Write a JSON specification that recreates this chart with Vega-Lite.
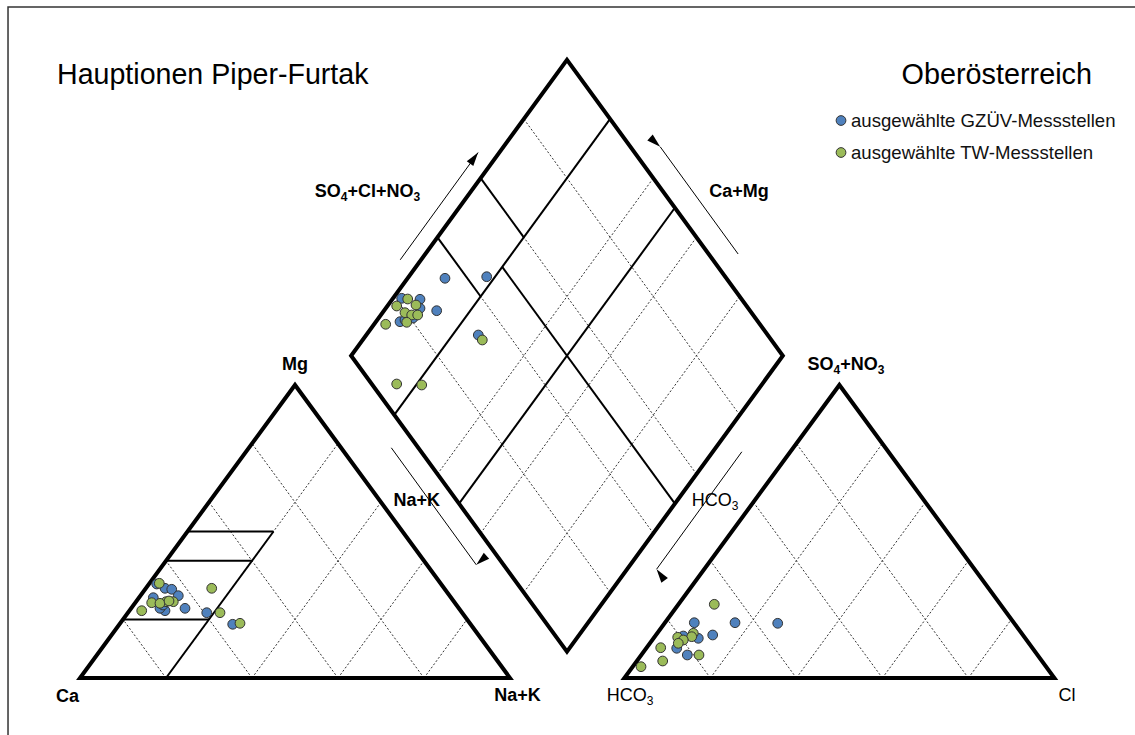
{
  "$schema": "https://vega.github.io/schema/vega-lite/v6.json",
  "width": 1135,
  "height": 735,
  "autosize": {"type": "none"},
  "padding": 0,
  "background": "white",
  "config": {"view": {"stroke": null}},
  "datasets": {
    "frame": [
      {"id": "f", "o": 1, "x": -16.74, "y": -19.45},
      {"id": "f", "o": 2, "x": -16.74, "y": 229.0},
      {"id": "f", "o": 3, "x": 245.35, "y": 229.0}
    ],
    "dash": [
      {"id": "l1", "o": 1, "x": 20, "y": 0}, {"id": "l1", "o": 2, "x": 10, "y": 20},
      {"id": "l2", "o": 1, "x": 40, "y": 0}, {"id": "l2", "o": 2, "x": 20, "y": 40},
      {"id": "l3", "o": 1, "x": 60, "y": 0}, {"id": "l3", "o": 2, "x": 30, "y": 60},
      {"id": "l4", "o": 1, "x": 80, "y": 0}, {"id": "l4", "o": 2, "x": 40, "y": 80},
      {"id": "l5", "o": 1, "x": 20, "y": 0}, {"id": "l5", "o": 2, "x": 60, "y": 80},
      {"id": "l6", "o": 1, "x": 40, "y": 0}, {"id": "l6", "o": 2, "x": 70, "y": 60},
      {"id": "l7", "o": 1, "x": 60, "y": 0}, {"id": "l7", "o": 2, "x": 80, "y": 40},
      {"id": "l8", "o": 1, "x": 80, "y": 0}, {"id": "l8", "o": 2, "x": 90, "y": 20},
      {"id": "r1", "o": 1, "x": 146.6, "y": 0}, {"id": "r1", "o": 2, "x": 136.6, "y": 20},
      {"id": "r2", "o": 1, "x": 166.6, "y": 0}, {"id": "r2", "o": 2, "x": 146.6, "y": 40},
      {"id": "r3", "o": 1, "x": 186.6, "y": 0}, {"id": "r3", "o": 2, "x": 156.6, "y": 60},
      {"id": "r4", "o": 1, "x": 206.6, "y": 0}, {"id": "r4", "o": 2, "x": 166.6, "y": 80},
      {"id": "r5", "o": 1, "x": 146.6, "y": 0}, {"id": "r5", "o": 2, "x": 186.6, "y": 80},
      {"id": "r6", "o": 1, "x": 166.6, "y": 0}, {"id": "r6", "o": 2, "x": 196.6, "y": 60},
      {"id": "r7", "o": 1, "x": 186.6, "y": 0}, {"id": "r7", "o": 2, "x": 206.6, "y": 40},
      {"id": "r8", "o": 1, "x": 206.6, "y": 0}, {"id": "r8", "o": 2, "x": 216.6, "y": 20},
      {"id": "d1", "o": 1, "x": 103.21, "y": 29.2}, {"id": "d1", "o": 2, "x": 153.41, "y": 130.2},
      {"id": "d2", "o": 1, "x": 93.17, "y": 49.4}, {"id": "d2", "o": 2, "x": 143.37, "y": 150.4},
      {"id": "d3", "o": 1, "x": 83.13, "y": 69.6}, {"id": "d3", "o": 2, "x": 133.33, "y": 170.6},
      {"id": "d4", "o": 1, "x": 73.09, "y": 89.8}, {"id": "d4", "o": 2, "x": 123.29, "y": 190.8},
      {"id": "d5", "o": 1, "x": 123.29, "y": 29.2}, {"id": "d5", "o": 2, "x": 73.09, "y": 130.2},
      {"id": "d6", "o": 1, "x": 133.33, "y": 49.4}, {"id": "d6", "o": 2, "x": 83.13, "y": 150.4},
      {"id": "d7", "o": 1, "x": 143.37, "y": 69.6}, {"id": "d7", "o": 2, "x": 93.17, "y": 170.6},
      {"id": "d8", "o": 1, "x": 153.41, "y": 89.8}, {"id": "d8", "o": 2, "x": 103.21, "y": 190.8}
    ],
    "thin": [
      {"id": "t1", "o": 1, "x": 20, "y": 0}, {"id": "t1", "o": 2, "x": 45, "y": 50},
      {"id": "t2", "o": 1, "x": 10, "y": 20}, {"id": "t2", "o": 2, "x": 30, "y": 20},
      {"id": "t3", "o": 1, "x": 20, "y": 40}, {"id": "t3", "o": 2, "x": 40, "y": 40},
      {"id": "t4", "o": 1, "x": 25, "y": 50}, {"id": "t4", "o": 2, "x": 45, "y": 50},
      {"id": "t5", "o": 1, "x": 73.09, "y": 89.8}, {"id": "t5", "o": 2, "x": 123.29, "y": 190.8},
      {"id": "t6", "o": 1, "x": 88.15, "y": 59.5}, {"id": "t6", "o": 2, "x": 138.35, "y": 160.5},
      {"id": "t7", "o": 1, "x": 138.35, "y": 59.5}, {"id": "t7", "o": 2, "x": 98.19, "y": 140.3},
      {"id": "t8", "o": 1, "x": 93.17, "y": 130.2}, {"id": "t8", "o": 2, "x": 83.13, "y": 150.4},
      {"id": "t9", "o": 1, "x": 103.21, "y": 150.4}, {"id": "t9", "o": 2, "x": 93.17, "y": 170.6}
    ],
    "thick": [
      {"id": "A", "o": 1, "x": 50, "y": 0}, {"id": "A", "o": 2, "x": 100, "y": 0},
      {"id": "A", "o": 3, "x": 50, "y": 100}, {"id": "A", "o": 4, "x": 0, "y": 0},
      {"id": "A", "o": 5, "x": 50, "y": 0},
      {"id": "B", "o": 1, "x": 176.6, "y": 0}, {"id": "B", "o": 2, "x": 226.6, "y": 0},
      {"id": "B", "o": 3, "x": 176.6, "y": 100}, {"id": "B", "o": 4, "x": 126.6, "y": 0},
      {"id": "B", "o": 5, "x": 176.6, "y": 0},
      {"id": "C", "o": 1, "x": 88.15, "y": 59.5}, {"id": "C", "o": 2, "x": 63.05, "y": 110},
      {"id": "C", "o": 3, "x": 113.25, "y": 211}, {"id": "C", "o": 4, "x": 163.45, "y": 110},
      {"id": "C", "o": 5, "x": 113.25, "y": 9}, {"id": "C", "o": 6, "x": 88.15, "y": 59.5}
    ],
    "arrows": [
      {"id": "a1", "o": 1, "x": 74.47, "y": 142.73}, {"id": "a1", "o": 2, "x": 92.58, "y": 179.32},
      {"id": "a2", "o": 1, "x": 153.05, "y": 144.71}, {"id": "a2", "o": 2, "x": 134.93, "y": 181.3},
      {"id": "a3", "o": 1, "x": 72.4, "y": 78.57}, {"id": "a3", "o": 2, "x": 92.16, "y": 38.63},
      {"id": "a4", "o": 1, "x": 153.91, "y": 77.2}, {"id": "a4", "o": 2, "x": 134.09, "y": 37.13}
    ],
    "heads": [
      {"x": 92.58, "y": 179.32, "dir": "ne"},
      {"x": 134.93, "y": 181.3, "dir": "nw"},
      {"x": 92.16, "y": 38.63, "dir": "se"},
      {"x": 134.09, "y": 37.13, "dir": "sw"}
    ],
    "pts": [
      {"g": "GZÜV", "x": 17.84, "y": 32.08},
      {"g": "GZÜV", "x": 19.77, "y": 30.61},
      {"g": "GZÜV", "x": 21.33, "y": 30.27},
      {"g": "GZÜV", "x": 22.86, "y": 28.09},
      {"g": "GZÜV", "x": 17.05, "y": 27.41},
      {"g": "GZÜV", "x": 24.42, "y": 23.78},
      {"g": "GZÜV", "x": 19.77, "y": 22.97},
      {"g": "GZÜV", "x": 18.6, "y": 23.79},
      {"g": "GZÜV", "x": 29.47, "y": 22.29},
      {"g": "GZÜV", "x": 35.51, "y": 18.33},
      {"g": "GZÜV", "x": 19.3, "y": 24.91},
      {"g": "GZÜV", "x": 84.88, "y": 136.42},
      {"g": "GZÜV", "x": 94.58, "y": 136.96},
      {"g": "GZÜV", "x": 74.81, "y": 129.59},
      {"g": "GZÜV", "x": 79.07, "y": 129.25},
      {"g": "GZÜV", "x": 82.95, "y": 125.36},
      {"g": "GZÜV", "x": 79.07, "y": 126.18},
      {"g": "GZÜV", "x": 74.42, "y": 121.6},
      {"g": "GZÜV", "x": 75.58, "y": 122.18},
      {"g": "GZÜV", "x": 92.63, "y": 117.06},
      {"g": "GZÜV", "x": 77.44, "y": 122.87},
      {"g": "GZÜV", "x": 142.86, "y": 18.87},
      {"g": "GZÜV", "x": 152.33, "y": 18.87},
      {"g": "GZÜV", "x": 162.26, "y": 18.67},
      {"g": "GZÜV", "x": 147.14, "y": 14.68},
      {"g": "GZÜV", "x": 143.79, "y": 13.55},
      {"g": "GZÜV", "x": 140.3, "y": 14.33},
      {"g": "GZÜV", "x": 138.77, "y": 10.14},
      {"g": "GZÜV", "x": 141.23, "y": 7.85},
      {"g": "TW", "x": 18.44, "y": 32.32},
      {"g": "TW", "x": 30.63, "y": 30.61},
      {"g": "TW", "x": 16.67, "y": 25.7},
      {"g": "TW", "x": 20.0, "y": 26.04},
      {"g": "TW", "x": 21.7, "y": 26.04},
      {"g": "TW", "x": 18.6, "y": 25.49},
      {"g": "TW", "x": 14.35, "y": 22.97},
      {"g": "TW", "x": 32.56, "y": 22.29},
      {"g": "TW", "x": 37.21, "y": 18.67},
      {"g": "TW", "x": 20.7, "y": 26.28},
      {"g": "TW", "x": 76.21, "y": 129.35},
      {"g": "TW", "x": 73.65, "y": 126.96},
      {"g": "TW", "x": 78.14, "y": 127.3},
      {"g": "TW", "x": 75.58, "y": 124.68},
      {"g": "TW", "x": 77.14, "y": 123.89},
      {"g": "TW", "x": 78.53, "y": 123.89},
      {"g": "TW", "x": 75.98, "y": 121.4},
      {"g": "TW", "x": 71.09, "y": 120.72},
      {"g": "TW", "x": 93.56, "y": 115.36},
      {"g": "TW", "x": 73.65, "y": 100.34},
      {"g": "TW", "x": 79.47, "y": 100.0},
      {"g": "TW", "x": 147.51, "y": 25.15},
      {"g": "TW", "x": 142.63, "y": 15.26},
      {"g": "TW", "x": 142.26, "y": 14.1},
      {"g": "TW", "x": 139.0, "y": 13.89},
      {"g": "TW", "x": 140.3, "y": 12.97},
      {"g": "TW", "x": 135.05, "y": 10.34},
      {"g": "TW", "x": 143.95, "y": 7.85},
      {"g": "TW", "x": 135.51, "y": 5.8},
      {"g": "TW", "x": 130.47, "y": 3.86},
      {"g": "TW", "x": 139.14, "y": 11.84}
    ],
    "legpts": [
      {"g": "GZÜV", "x": 176.98, "y": 190.27},
      {"g": "TW", "x": 176.98, "y": 179.35}
    ],
    "legtxt": [
      {"t": "ausgewählte GZÜV-Messstellen", "x": 179.3, "y": 188.05},
      {"t": "ausgewählte TW-Messstellen", "x": 179.3, "y": 177.13}
    ],
    "title": [{"t": "Hauptionen Piper-Furtak", "x": -5.35, "y": 202.73}],
    "region": [{"t": "Oberösterreich", "x": 235.35, "y": 202.73}],
    "boldC": [
      {"t": "Mg", "x": 50, "y": 105.12},
      {"t": "Ca", "x": -2.91, "y": -8.19},
      {"t": "Na+K", "x": 101.74, "y": -7.85},
      {"t": "Ca+Mg", "x": 153.26, "y": 164.16},
      {"t": "Na+K", "x": 78.3, "y": 58.7}
    ],
    "boldL": [
      {"t": "SO", "x": 54.6, "y": 164.16},
      {"t": "+Cl+NO", "x": 62.2, "y": 164.16},
      {"t": "SO", "x": 169.2, "y": 105.12},
      {"t": "+NO", "x": 176.8, "y": 105.12}
    ],
    "boldSub": [
      {"t": "4", "x": 60.65, "y": 164.16},
      {"t": "3", "x": 77.56, "y": 164.16},
      {"t": "4", "x": 175.25, "y": 105.12},
      {"t": "3", "x": 185.53, "y": 105.12}
    ],
    "regC": [
      {"t": "Cl", "x": 229.53, "y": -7.85}
    ],
    "regL": [
      {"t": "HCO", "x": 122.48, "y": -7.85},
      {"t": "HCO", "x": 142.25, "y": 58.7}
    ],
    "regSub": [
      {"t": "3", "x": 131.78, "y": -7.85},
      {"t": "3", "x": 151.55, "y": 58.7}
    ]
  },
  "encoding": {
    "x": {"field": "x", "type": "quantitative", "scale": {"domain": [-18.605, 245.349], "nice": false, "zero": false}, "axis": null},
    "y": {"field": "y", "type": "quantitative", "scale": {"domain": [-19.454, 231.399], "nice": false, "zero": false}, "axis": null}
  },
  "layer": [
    {
      "data": {"name": "frame"},
      "mark": {"type": "line", "color": "#333333", "strokeWidth": 1.5},
      "encoding": {"detail": {"field": "id"}, "order": {"field": "o"}}
    },
    {
      "data": {"name": "dash"},
      "mark": {"type": "line", "color": "#333333", "strokeWidth": 1, "strokeDash": [2, 2]},
      "encoding": {"detail": {"field": "id"}, "order": {"field": "o"}}
    },
    {
      "data": {"name": "thin"},
      "mark": {"type": "line", "color": "#000000", "strokeWidth": 2},
      "encoding": {"detail": {"field": "id"}, "order": {"field": "o"}}
    },
    {
      "data": {"name": "thick"},
      "mark": {"type": "line", "color": "#000000", "strokeWidth": 4, "strokeJoin": "miter", "strokeMiterLimit": 10},
      "encoding": {"detail": {"field": "id"}, "order": {"field": "o"}}
    },
    {
      "data": {"name": "arrows"},
      "mark": {"type": "line", "color": "#000000", "strokeWidth": 1},
      "encoding": {"detail": {"field": "id"}, "order": {"field": "o"}}
    },
    {
      "data": {"name": "heads"},
      "mark": {"type": "point", "shape": "M0,0L1,3.4L-1,3.4Z", "filled": true, "color": "#000000", "opacity": 1},
      "encoding": {
        "size": {"value": 65},
        "angle": {"field": "dir", "type": "ordinal", "scale": {"domain": ["ne", "nw", "se", "sw"], "range": [36, 324, 144, 216]}, "legend": null}
      }
    },
    {
      "data": {"name": "pts"},
      "mark": {"type": "point", "shape": "circle", "filled": true, "opacity": 1, "stroke": "#333333", "strokeWidth": 1},
      "encoding": {
        "size": {"value": 95},
        "fill": {"field": "g", "type": "nominal", "scale": {"domain": ["GZÜV", "TW"], "range": ["#4F81BD", "#9BBB59"]}, "legend": null}
      }
    },
    {
      "data": {"name": "legpts"},
      "mark": {"type": "point", "shape": "circle", "filled": true, "opacity": 1, "stroke": "#333333", "strokeWidth": 1},
      "encoding": {
        "size": {"value": 95},
        "fill": {"field": "g", "type": "nominal", "scale": {"domain": ["GZÜV", "TW"], "range": ["#4F81BD", "#9BBB59"]}, "legend": null}
      }
    },
    {
      "data": {"name": "legtxt"},
      "mark": {"type": "text", "align": "left", "baseline": "alphabetic", "font": "Liberation Sans", "fontSize": 18.6, "color": "#111111"},
      "encoding": {"text": {"field": "t"}}
    },
    {
      "data": {"name": "title"},
      "mark": {"type": "text", "align": "left", "baseline": "alphabetic", "font": "Liberation Sans", "fontSize": 28.6, "color": "#000000"},
      "encoding": {"text": {"field": "t"}}
    },
    {
      "data": {"name": "region"},
      "mark": {"type": "text", "align": "right", "baseline": "alphabetic", "font": "Liberation Sans", "fontSize": 28.8, "color": "#000000"},
      "encoding": {"text": {"field": "t"}}
    },
    {
      "data": {"name": "boldC"},
      "mark": {"type": "text", "align": "center", "baseline": "alphabetic", "font": "Liberation Sans", "fontSize": 18, "fontWeight": "bold", "color": "#000000"},
      "encoding": {"text": {"field": "t"}}
    },
    {
      "data": {"name": "boldL"},
      "mark": {"type": "text", "align": "left", "baseline": "alphabetic", "font": "Liberation Sans", "fontSize": 18, "fontWeight": "bold", "color": "#000000"},
      "encoding": {"text": {"field": "t"}}
    },
    {
      "data": {"name": "boldSub"},
      "mark": {"type": "text", "align": "left", "baseline": "alphabetic", "dy": 4, "font": "Liberation Sans", "fontSize": 12, "fontWeight": "bold", "color": "#000000"},
      "encoding": {"text": {"field": "t"}}
    },
    {
      "data": {"name": "regC"},
      "mark": {"type": "text", "align": "center", "baseline": "alphabetic", "font": "Liberation Sans", "fontSize": 18, "color": "#000000"},
      "encoding": {"text": {"field": "t"}}
    },
    {
      "data": {"name": "regL"},
      "mark": {"type": "text", "align": "left", "baseline": "alphabetic", "font": "Liberation Sans", "fontSize": 18, "color": "#000000"},
      "encoding": {"text": {"field": "t"}}
    },
    {
      "data": {"name": "regSub"},
      "mark": {"type": "text", "align": "left", "baseline": "alphabetic", "dy": 4, "font": "Liberation Sans", "fontSize": 12, "color": "#000000"},
      "encoding": {"text": {"field": "t"}}
    }
  ]
}
